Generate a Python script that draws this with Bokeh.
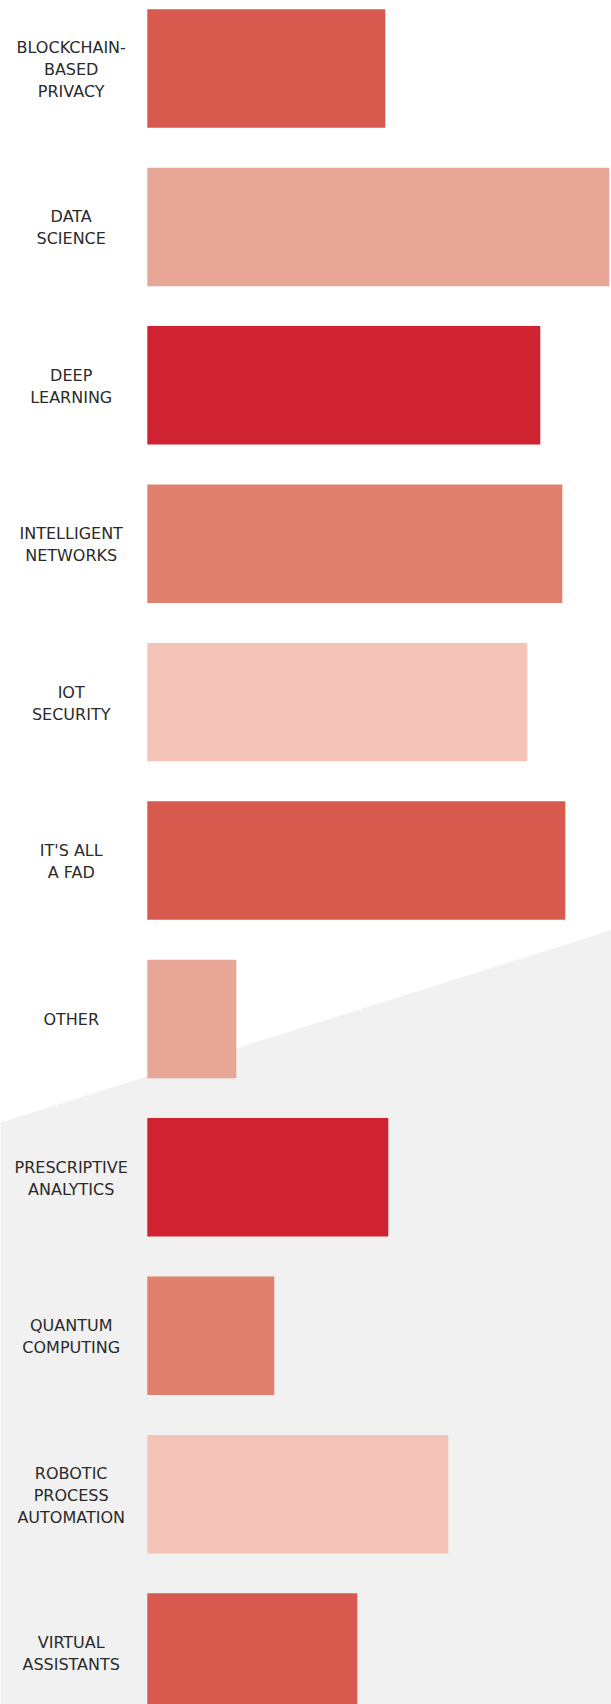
from bokeh.plotting import figure
from bokeh.models import Range1d, ColumnDataSource
from bokeh.core.properties import value
from bokeh.embed import file_html
from bokeh.resources import INLINE

categories = [
    "BLOCKCHAIN-\nBASED\nPRIVACY",
    "DATA\nSCIENCE",
    "DEEP\nLEARNING",
    "INTELLIGENT\nNETWORKS",
    "IOT\nSECURITY",
    "IT'S ALL\nA FAD",
    "OTHER",
    "PRESCRIPTIVE\nANALYTICS",
    "QUANTUM\nCOMPUTING",
    "ROBOTIC\nPROCESS\nAUTOMATION",
    "VIRTUAL\nASSISTANTS",
]
values = [238, 462, 393, 415, 380, 418, 89, 241, 127, 301, 210]
palette = ["#d85a4e", "#e8a696", "#d02332", "#e2806e", "#f3c4b7"]

idx = list(range(len(categories)))
colors = [palette[i % len(palette)] for i in idx]

W, H = 611, 1704
p = figure(width=W, height=H, output_backend="svg", toolbar_location=None,
           x_range=Range1d(-146.8, 464.2), y_range=Range1d(10.328, -0.4293),
           min_border=0, outline_line_color=None)
p.axis.visible = False
p.grid.visible = False
p.background_fill_color = "white"
p.border_fill_color = "white"

# grey diagonal background band
p.patch(x=[-160, 480, 480, -160], y=[6.680, 5.408, 11, 11],
        fill_color="#f0f1f0", line_color=None)

src = ColumnDataSource(dict(y=idx, right=values, color=colors, label=categories))
p.hbar(y="y", left=0, right="right", height=0.748, fill_color="color",
       line_color=None, source=src)

p.text(x=-76.1, y="y", text="label", source=src, text_align="center",
       text_baseline="middle", text_font=value("DejaVu Sans"),
       text_font_size="16px", text_color="#2a2a2a", text_line_height=1.165,
       y_offset=1)

open("out.html", "w").write(file_html(p, INLINE))
